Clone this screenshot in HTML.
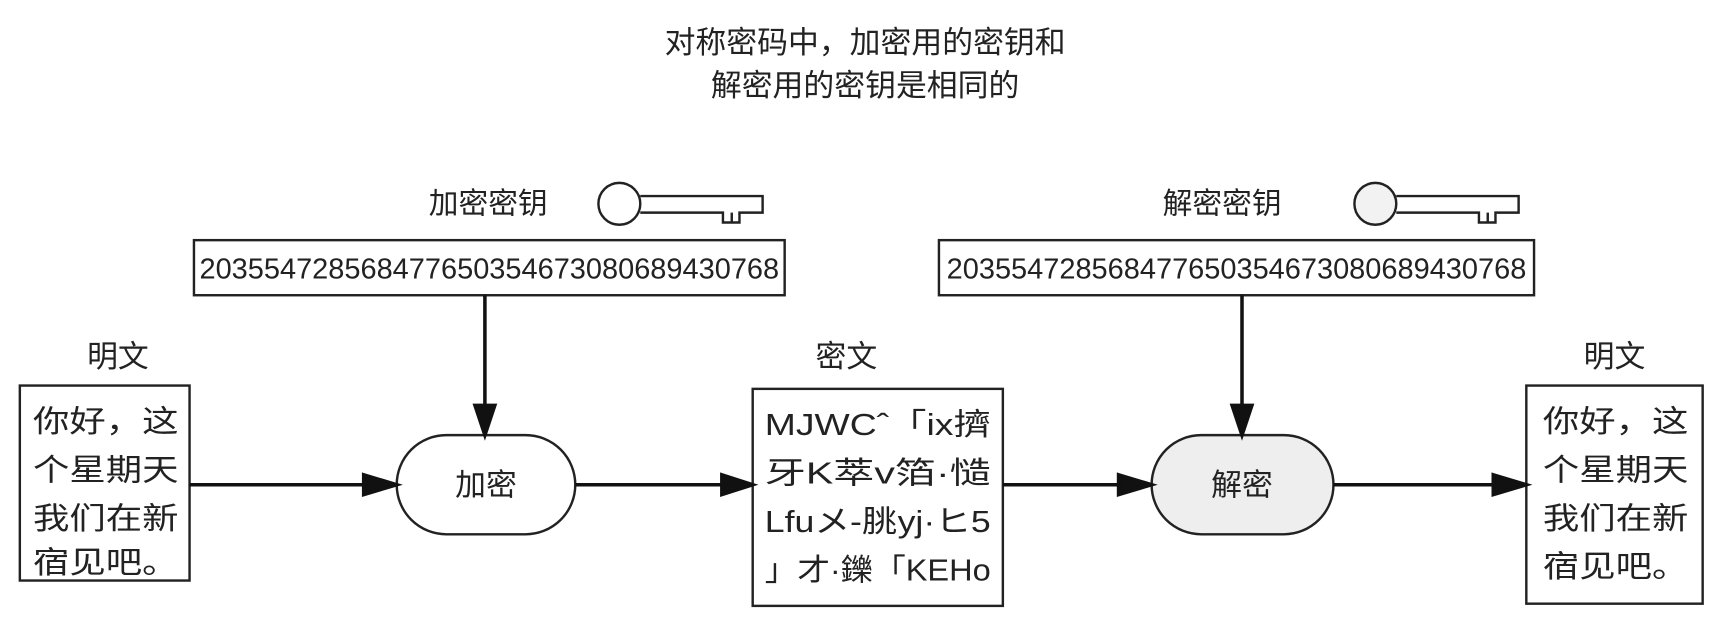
<!DOCTYPE html>
<html><head><meta charset="utf-8"><style>
html,body{margin:0;padding:0;background:#fff;}
svg{display:block}
text{font-family:"Liberation Sans","Noto Sans CJK SC",sans-serif;fill:#222}
</style></head><body>
<svg width="1728" height="618" viewBox="0 0 1568 561" preserveAspectRatio="none" xmlns="http://www.w3.org/2000/svg">
<g font-size="28" text-anchor="middle">
<text x="785" y="48">对称密码中，加密用的密钥和</text>
<text x="785" y="87">解密用的密钥是相同的</text>
</g>
<text x="443" y="194" font-size="27" text-anchor="middle">加密密钥</text>
<text x="1109" y="194" font-size="27" text-anchor="middle">解密密钥</text>
<g fill="none" stroke="#222" stroke-width="2.2">
<circle cx="562" cy="185" r="19"/><path d="M581,178 H692 V193 H671 V202 H656 V193 H581"/><path d="M664,193 V202"/>
<circle cx="1248" cy="185" r="19" fill="#f2f2f2"/><path d="M1267,178 H1378 V193 H1357 V202 H1342 V193 H1267"/><path d="M1350,193 V202"/>
<rect x="176" y="218" width="536" height="50"/>
<rect x="852" y="218" width="540" height="50"/>
<rect x="18" y="350" width="154" height="177"/>
<rect x="683" y="353" width="227" height="197"/>
<rect x="1385" y="350" width="160" height="198"/>
<rect x="360" y="395" width="162" height="90" rx="45" fill="#fff"/>
<rect x="1045" y="395" width="165" height="90" rx="45" fill="#eeeeee"/>
</g>
<g font-size="26">
<text x="181" y="253" textLength="526" lengthAdjust="spacingAndGlyphs">203554728568477650354673080689430768</text>
<text x="859" y="253" textLength="526" lengthAdjust="spacingAndGlyphs">203554728568477650354673080689430768</text>
</g>
<g stroke="#111" stroke-width="3.2" fill="#111">
<line x1="440" y1="268" x2="440" y2="372"/><path d="M431,368 L449,368 L440,395 Z"/>
<line x1="1127" y1="268" x2="1127" y2="372"/><path d="M1118,368 L1136,368 L1127,395 Z"/>
<line x1="172" y1="440" x2="334" y2="440"/><path d="M330,431 L360,440 L330,449 Z"/>
<line x1="522" y1="440" x2="660" y2="440"/><path d="M655,431 L683,440 L655,449 Z"/>
<line x1="910" y1="440" x2="1020" y2="440"/><path d="M1015,431 L1045,440 L1015,449 Z"/>
<line x1="1210" y1="440" x2="1360" y2="440"/><path d="M1355,431 L1385,440 L1355,449 Z"/>
</g>
<g font-size="28" text-anchor="middle">
<text x="107" y="333">明文</text>
<text x="768" y="333">密文</text>
<text x="1465" y="333">明文</text>
<text x="441" y="450">加密</text>
<text x="1127" y="450">解密</text>
</g>
<g font-size="28">
<text x="30" y="392" textLength="132" lengthAdjust="spacingAndGlyphs">你好，这</text><text x="30" y="436" textLength="132" lengthAdjust="spacingAndGlyphs">个星期天</text><text x="30" y="480" textLength="132" lengthAdjust="spacingAndGlyphs">我们在新</text><text x="30" y="520" textLength="132" lengthAdjust="spacingAndGlyphs">宿见吧。</text>
<text x="1400" y="392" textLength="132" lengthAdjust="spacingAndGlyphs">你好，这</text><text x="1400" y="436" textLength="132" lengthAdjust="spacingAndGlyphs">个星期天</text><text x="1400" y="480" textLength="132" lengthAdjust="spacingAndGlyphs">我们在新</text><text x="1400" y="524" textLength="132" lengthAdjust="spacingAndGlyphs">宿见吧。</text>
<text x="694" y="395" textLength="205" lengthAdjust="spacingAndGlyphs">MJWCˆ「ix擠</text>
<text x="694" y="439" textLength="205" lengthAdjust="spacingAndGlyphs">牙K萃v箔·慥</text>
<text x="694" y="483" textLength="205" lengthAdjust="spacingAndGlyphs">Lfuメ-朓yj·ヒ5</text>
<text x="694" y="527" textLength="205" lengthAdjust="spacingAndGlyphs">」才·鑠「KEHo</text>
</g>
</svg>
</body></html>
